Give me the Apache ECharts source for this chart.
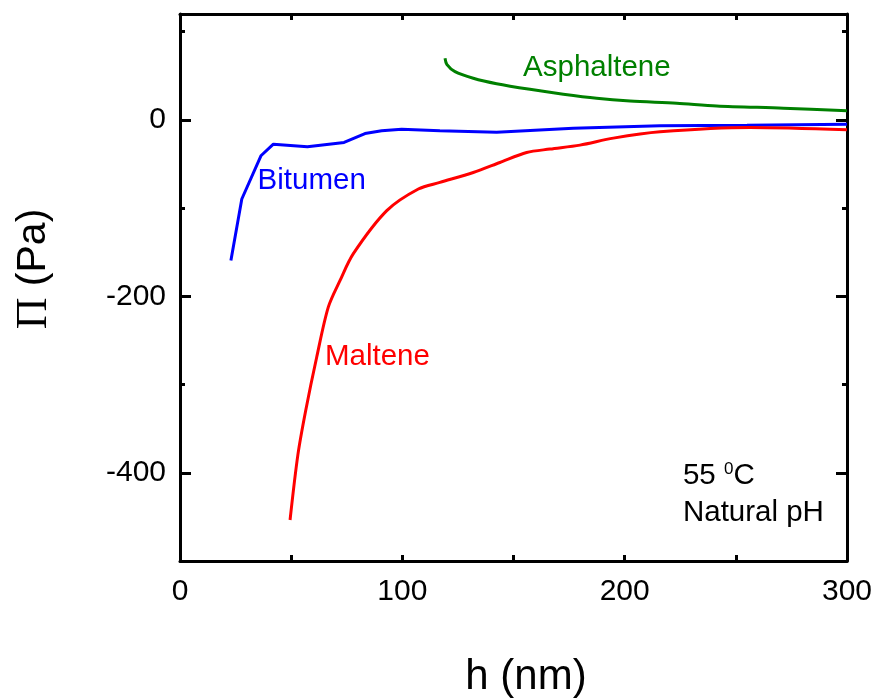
<!DOCTYPE html>
<html>
<head>
<meta charset="utf-8">
<script src="https://cdn.jsdelivr.net/npm/echarts@6/dist/echarts.min.js"></script>
<style>
  html, body { margin: 0; padding: 0; background: #fff; }
  #chart { width: 876px; height: 700px; }
</style>
</head>
<body>
<div id="chart"></div>
<script>
// Disjoining pressure isotherms, h in nm, Π in Pa
const bitumenH  = [22.9, 27.8, 36.4, 42.0, 57.3, 73.8, 83.2, 90.7, 99.7, 116.9, 142.4, 176.9, 215.9, 255.0, 300.0];
const bitumenPi = [-159.4, -89.7, -40.7, -27.5, -30.5, -25.6, -15.5, -12.4, -10.5, -12.4, -13.9, -9.4, -6.8, -6.0, -4.9];

const malteneH  = [49.5, 53.0, 56.5, 61.5, 66.7, 72.0, 77.9, 93.0, 107.2, 116.9, 131.9, 143.9, 155.9, 166.4, 179.9, 194.9, 215.9, 256.4, 300.0];
const maltenePi = [-453.5, -380, -330, -268.8, -212.3, -182, -151.9, -102.9, -78.4, -70.9, -59.6, -48.3, -37, -33.1, -28.6, -20.7, -13.6, -8.7, -11.3];

const asphalteneH  = [119.2, 120.0, 123.7, 131.9, 142.4, 157.4, 172.4, 187.4, 202.4, 223.4, 241.4, 271.4, 300.0];
const asphaltenePi = [69.8, 63.0, 54.6, 47.2, 41.0, 34.6, 29.1, 24.5, 21.5, 18.9, 15.8, 13.2, 10.2];

const xLabelValues = [0, 100, 200, 300];
const yLabelValues = [-400, -200, 0];
const yMinorValues = [-300, -100, 100];

const pairs = (xs, ys) => xs.map((x, i) => [x, ys[i]]);

const FONT = '"Liberation Sans", Arial, sans-serif';
const chart = echarts.init(document.getElementById('chart'), null, { renderer: 'canvas' });

const X_MIN = 0, X_MAX = 300, Y_MIN = -500, Y_MAX = 120;
const lineW = 3;

function xAxisCfg(pos, showLabels) {
  return {
    type: 'value', position: pos, min: X_MIN, max: X_MAX, interval: 50,
    axisLine: { show: true, onZero: false, lineStyle: { color: '#000', width: lineW } },
    axisTick: { show: true, inside: true, length: 6, lineStyle: { color: '#000', width: lineW } },
    axisLabel: {
      show: showLabels, customValues: xLabelValues, margin: 16,
      color: '#000', fontFamily: FONT, fontSize: 30
    },
    splitLine: { show: false }
  };
}
function yAxisCfg(pos, ticks, len, showLine, showLabels) {
  return {
    type: 'value', position: pos, min: Y_MIN, max: Y_MAX,
    axisLine: { show: showLine, onZero: false, lineStyle: { color: '#000', width: lineW } },
    axisTick: { show: true, inside: true, length: len, customValues: ticks, lineStyle: { color: '#000', width: lineW } },
    axisLabel: {
      show: showLabels, customValues: yLabelValues, margin: 14,
      color: '#000', fontFamily: FONT, fontSize: 30
    },
    splitLine: { show: false }
  };
}

const option = {
  backgroundColor: '#fff',
  animation: false,
  grid: { left: 180, right: 29, top: 14, bottom: 139, containLabel: false },
  xAxis: [xAxisCfg('bottom', true), xAxisCfg('top', false)],
  yAxis: [
    yAxisCfg('left', yLabelValues, 11, true, true),
    yAxisCfg('left', yMinorValues, 5, false, false),
    yAxisCfg('right', yLabelValues, 11, true, false),
    yAxisCfg('right', yMinorValues, 5, false, false)
  ],
  series: [
    { name: 'Bitumen', type: 'line', data: pairs(bitumenH, bitumenPi), showSymbol: false,
      smooth: false, lineStyle: { color: '#0000ff', width: 3 } },
    { name: 'Maltene', type: 'line', data: pairs(malteneH, maltenePi), showSymbol: false,
      smooth: 0.3, lineStyle: { color: '#ff0000', width: 3 } },
    { name: 'Asphaltene', type: 'line', data: pairs(asphalteneH, asphaltenePi), showSymbol: false,
      smooth: 0.3, lineStyle: { color: '#008000', width: 3 } }
  ]
};
chart.setOption(option);

// Curve names and conditions, anchored in data coordinates
const NOTE_SIZE = 29.5;
const notes = [
  { text: 'Asphaltene', at: [154.3, 59.5], color: '#008000' },
  { text: 'Bitumen', at: [34.9, -68.6], color: '#0000ff' },
  { text: 'Maltene', at: [65.2, -268.6], color: '#ff0000' },
  { text: '{n|55 }{s|0}{n|C}', at: [226.2, -403.5], color: '#000' },
  { text: 'Natural pH', at: [226.2, -445.4], color: '#000' }
];
const graphics = notes.map(n => {
  const p = chart.convertToPixel({ xAxisIndex: 0, yAxisIndex: 0 }, n.at);
  return {
    type: 'text', x: p[0], y: p[1], silent: true,
    style: {
      text: n.text, fill: n.color, font: NOTE_SIZE + 'px ' + FONT,
      align: 'left', verticalAlign: 'middle',
      rich: {
        n: { fontSize: NOTE_SIZE, fontFamily: FONT, fill: n.color },
        s: { fontSize: 17, fontFamily: FONT, fill: n.color, padding: [0, 0, 14, 0] }
      }
    }
  };
});
graphics.push({
  type: 'text', x: 526, y: 677, silent: true,
  style: { text: 'h (nm)', fill: '#000', font: '42px ' + FONT, align: 'center', verticalAlign: 'middle' }
});
graphics.push({
  type: 'text', x: 34, y: 269, rotation: Math.PI / 2, silent: true,
  style: {
    text: '{pi|Π}{pa| (Pa)}', fill: '#000', align: 'center', verticalAlign: 'middle',
    rich: {
      pi: { fontSize: 44, fontFamily: '"Liberation Serif", "Times New Roman", serif', fill: '#000' },
      pa: { fontSize: 41, fontFamily: FONT, fill: '#000' }
    }
  }
});
chart.setOption({ graphic: graphics });
</script>
</body>
</html>
